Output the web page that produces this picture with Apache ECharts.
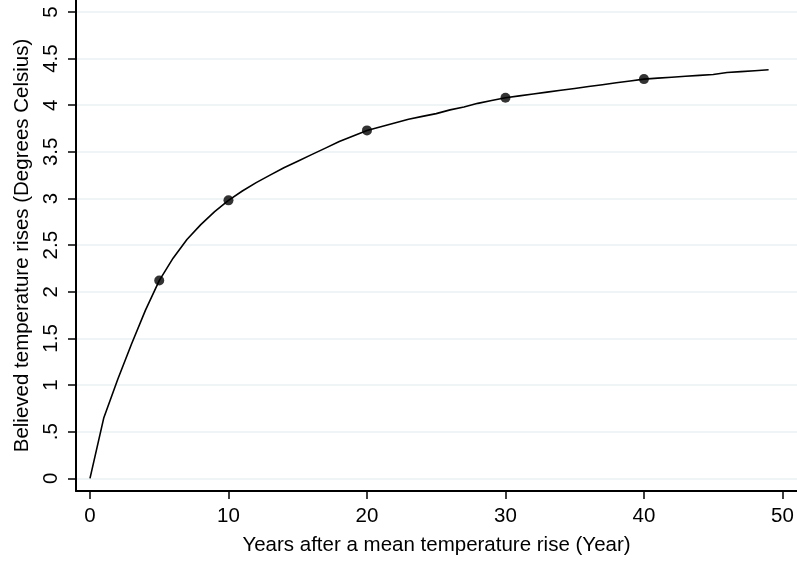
<!DOCTYPE html>
<html>
<head>
<meta charset="utf-8">
<script src="https://cdn.jsdelivr.net/npm/echarts@6/dist/echarts.min.js"></script>
<style>html,body{margin:0;padding:0;background:#fff}#c{width:797px;height:566px}</style>
</head>
<body>
<div id="c"></div>
<script>
// Curve (years after rise -> believed temperature rise)
var curveYears = [];
for (var i = 0; i <= 49; i++) curveYears.push(i);
var curveValues = [0, 0.65, 1.06, 1.44, 1.80, 2.12, 2.36, 2.56, 2.72, 2.86,
  2.98, 3.08, 3.17, 3.25, 3.33, 3.40, 3.47, 3.54, 3.61, 3.67,
  3.73, 3.77, 3.81, 3.85, 3.88, 3.91, 3.95, 3.98, 4.02, 4.05,
  4.08, 4.10, 4.12, 4.14, 4.16, 4.18, 4.20, 4.22, 4.24, 4.26,
  4.28, 4.29, 4.30, 4.31, 4.32, 4.33, 4.35, 4.36, 4.37, 4.38];
// Marked points
var pointYears = [5, 10, 20, 30, 40];
var pointValues = [2.12, 2.98, 3.73, 4.08, 4.28];
// Tick values
var xTicks = [0, 10, 20, 30, 40, 50];
var yTicks = [0, 0.5, 1, 1.5, 2, 2.5, 3, 3.5, 4, 4.5, 5];

var FONT = 'Liberation Sans, Arial, sans-serif';
var FS = 20.5;
var chart = echarts.init(document.getElementById('c'));
chart.setOption({
  backgroundColor: '#ffffff',
  animation: false,
  grid: {left: 76, right: 0, top: 0, bottom: 75, containLabel: false},
  xAxis: {
    type: 'value', min: -1.01, max: 51.05,
    name: 'Years after a mean temperature rise (Year)',
    nameLocation: 'middle', nameGap: 44,
    nameTextStyle: {fontFamily: FONT, fontSize: FS, color: '#000'},
    axisLine: {show: true, onZero: false, lineStyle: {color: '#000', width: 2}},
    axisTick: {show: true, length: 8, customValues: xTicks, lineStyle: {color: '#000', width: 1.5}},
    axisLabel: {customValues: xTicks, margin: 15, fontFamily: FONT, fontSize: FS, color: '#000'},
    splitLine: {show: false}
  },
  yAxis: {
    type: 'value', min: -0.136, max: 5.128,
    name: 'Believed temperature rises (Degrees Celsius)',
    nameLocation: 'middle', nameGap: 43,
    nameTextStyle: {fontFamily: FONT, fontSize: FS, color: '#000'},
    axisLine: {show: true, onZero: false, lineStyle: {color: '#000', width: 2}},
    axisTick: {show: true, length: 8, customValues: yTicks, lineStyle: {color: '#000', width: 1.5}},
    axisLabel: {customValues: yTicks, rotate: 90, margin: 14, fontFamily: FONT, fontSize: FS, color: '#000',
      formatter: function (v) { return v === 0 ? '0' : String(v).replace(/^0\./, '.'); }},
    splitLine: {show: true, lineStyle: {color: '#eaf2f3', width: 1.5}}
  },
  series: [
    {
      type: 'line', data: curveYears.map(function (x, i) { return [x, curveValues[i]]; }),
      showSymbol: false, smooth: false,
      lineStyle: {color: '#000', width: 1.6}, z: 2
    },
    {
      type: 'scatter', data: pointYears.map(function (x, i) { return [x, pointValues[i]]; }),
      symbol: 'circle', symbolSize: 10, itemStyle: {color: '#000'}, z: 3
    }
  ]
});
</script>
</body>
</html>
